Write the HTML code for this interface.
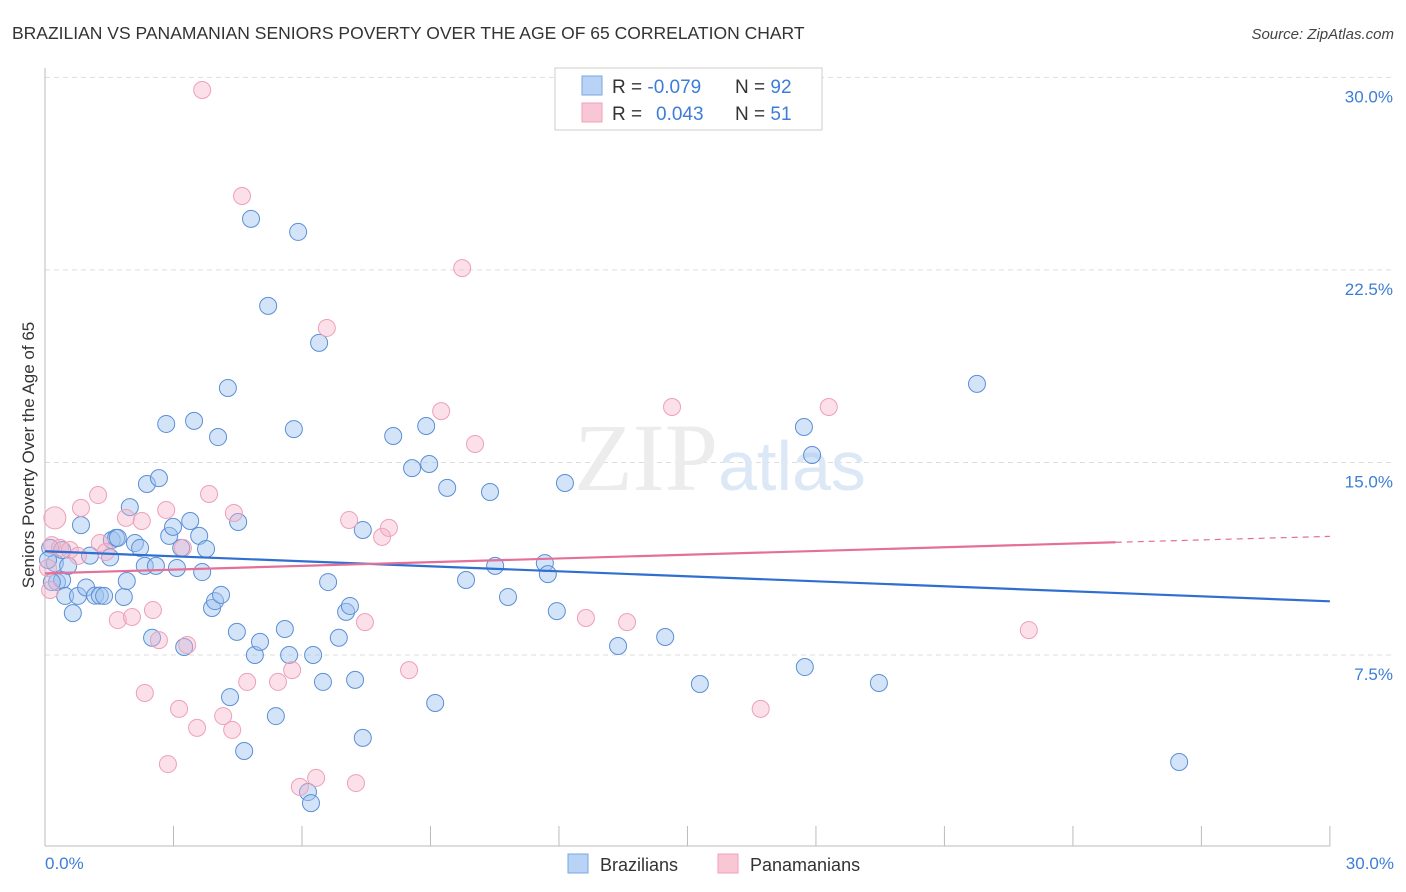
<!DOCTYPE html>
<html><head><meta charset="utf-8"><style>
body{margin:0;background:#fff;font-family:"Liberation Sans",sans-serif}
svg{display:block}
</style></head><body>
<svg id="chart" width="1406" height="892" xmlns="http://www.w3.org/2000/svg">
<text x="12" y="39" font-size="17.5" fill="#333">BRAZILIAN VS PANAMANIAN SENIORS POVERTY OVER THE AGE OF 65 CORRELATION CHART</text>
<text x="1394" y="39" font-size="15" fill="#444" font-style="italic" text-anchor="end">Source: ZipAtlas.com</text>
<g id="grid"></g>
<text x="720" y="490" font-size="96" fill="#ececec" text-anchor="middle" font-family="Liberation Serif,serif">ZIP<tspan fill="#dce8f6" font-family="Liberation Sans,sans-serif" font-size="70">atlas</tspan></text>
<line x1="45" y1="68" x2="45" y2="846" stroke="#bbb"/>
<line x1="45" y1="846" x2="1330" y2="846" stroke="#bbb"/>
<text transform="translate(34,455) rotate(-90)" font-size="17" fill="#333" text-anchor="middle">Seniors Poverty Over the Age of 65</text>
<text x="45" y="869" font-size="17" fill="#3d7dd6">0.0%</text>
<text x="1394" y="869" font-size="17" fill="#3d7dd6" text-anchor="end">30.0%</text>
<g id="pts"></g>
<g id="trends"></g>
<g>
<rect x="555" y="68" width="267" height="62" fill="#fff" stroke="#ccc"/>
<rect x="582" y="76" width="20" height="19" fill="#b8d3f5" stroke="#7aa7e0"/>
<rect x="582" y="103" width="20" height="19" fill="#f9c6d6" stroke="#eea0b8"/>
<text x="612" y="93" font-size="19" fill="#333">R = <tspan fill="#3d7dd6">-0.079</tspan><tspan x="735">N = </tspan><tspan fill="#3d7dd6">92</tspan></text>
<text x="612" y="120" font-size="19" fill="#333">R = <tspan x="656" fill="#3d7dd6">0.043</tspan><tspan x="735">N = </tspan><tspan fill="#3d7dd6"> 51</tspan></text>
</g>
<g>
<rect x="568" y="854" width="20" height="19" fill="#b8d3f5" stroke="#7aa7e0"/>
<text x="600" y="871" font-size="18" fill="#333">Brazilians</text>
<rect x="718" y="854" width="20" height="19" fill="#f9c6d6" stroke="#eea0b8"/>
<text x="750" y="871" font-size="18" fill="#333">Panamanians</text>
</g>
</svg>
<script>
const yTicks=[7.5,15,22.5,30];
const yTickLabels=["7.5%","15.0%","22.5%","30.0%"];
const xTicks=[0,3,6,9,12,15,18,21,24,27,30];
const blueX=[0.12,0.23,0.28,0.40,0.54,0.47,0.65,0.77,0.84,0.96,1.05,1.17,1.28,1.38,1.52,1.56,1.66,1.70,1.84,1.91,1.98,2.10,2.22,2.38,2.33,2.50,2.59,2.66,2.83,2.90,2.99,3.08,3.18,3.25,3.39,3.48,3.60,3.67,3.76,3.90,3.97,4.11,4.04,4.27,4.32,4.48,4.51,4.65,4.81,4.90,5.02,5.21,5.39,5.60,5.70,5.81,5.91,6.14,6.21,6.26,6.40,6.49,6.61,6.86,7.03,7.12,7.24,7.42,7.42,8.13,8.57,8.90,8.97,9.11,9.39,9.83,10.39,10.51,10.81,11.67,11.74,11.95,12.14,13.38,14.48,15.29,17.72,17.74,17.91,19.47,21.76,26.48,0.16,0.40,0.07];
const blueY=[11.67,11.08,10.34,10.42,10.97,9.80,9.13,9.80,12.56,10.13,11.37,9.81,9.81,9.80,11.30,11.98,12.06,12.06,9.76,10.38,13.26,11.86,11.67,14.16,10.97,8.17,10.97,14.39,16.50,12.14,12.49,10.89,11.67,7.81,12.72,16.62,12.14,10.73,11.63,9.33,9.60,9.84,15.99,17.90,5.86,8.40,12.68,3.76,24.49,7.50,8.01,21.10,5.12,8.51,7.50,16.30,23.98,2.16,1.73,7.50,19.66,6.45,10.34,8.17,9.18,9.41,6.53,12.37,4.27,16.03,14.78,16.42,14.94,5.63,14.01,10.42,13.85,10.97,9.76,11.08,10.65,9.21,14.20,7.85,8.20,6.37,16.38,7.03,15.29,6.41,18.06,3.33,10.34,11.59,11.20];
const pinkX=[0.23,0.16,0.35,0.58,0.77,0.84,1.24,1.28,1.42,1.70,1.89,2.03,2.26,2.33,2.52,2.66,2.83,2.87,3.13,3.22,3.32,3.55,3.67,3.83,4.16,4.37,4.41,4.60,4.72,5.44,5.77,5.95,6.33,6.58,7.10,7.26,7.47,7.87,8.03,8.50,9.25,9.74,10.04,12.63,13.59,14.64,16.71,18.30,22.97,0.07,0.12];
const pinkY=[12.84,11.78,11.67,11.59,11.36,13.23,13.73,11.86,11.51,8.86,12.84,8.98,12.72,6.02,9.25,8.08,13.15,3.25,5.40,11.67,7.89,4.66,29.51,13.77,5.12,4.58,13.03,25.38,6.45,6.45,6.91,2.36,2.71,20.24,12.76,2.51,8.78,12.10,12.45,6.91,17.00,22.57,15.72,8.94,8.78,17.16,5.40,17.16,8.47,10.89,10.03];
const blueTrend=[11.54,9.59];
const pinkTrend=[10.68,11.89,12.12];
const NS="http://www.w3.org/2000/svg";
function sx(v){return 45+v*42.83;}
function sy(v){return 847.5-v*25.67;}
function mk(t,a,p){const e=document.createElementNS(NS,t);for(const k in a)e.setAttribute(k,a[k]);p.appendChild(e);return e;}
const grid=document.getElementById('grid');
yTicks.forEach((t,i)=>{
 const l=mk('line',{x1:45,x2:1394,y1:sy(t),y2:sy(t),stroke:'#ddd','stroke-dasharray':'5,4'},grid);
 
 
 const tx=mk('text',{x:1393,y:sy(t)+25,'font-size':17,fill:'#3d7dd6','text-anchor':'end'},grid);
 tx.textContent=yTickLabels[i];
 
 
});
xTicks.forEach(t=>{
 const l=mk('line',{x1:sx(t),x2:sx(t),y1:826,y2:846,stroke:'#bbb'},grid);
 
 
});
const pts=document.getElementById('pts');
blueX.forEach((x,i)=>{
 const c=mk('circle',{cx:sx(x),cy:sy(blueY[i]),r:8.5,fill:'rgba(160,196,240,0.45)',stroke:'#5b8fd6','stroke-width':1},pts);
 
 
});
pinkX.forEach((x,i)=>{
 const c=mk('circle',{cx:sx(x),cy:sy(pinkY[i]),r:i===0?11:8.5,fill:'rgba(246,178,200,0.4)',stroke:'#eea0b8','stroke-width':1},pts);
 
 
});
const tr=document.getElementById('trends');
const bl=mk('line',{x1:sx(0),y1:sy(blueTrend[0]),x2:sx(30),y2:sy(blueTrend[1]),stroke:'#2f6fd0','stroke-width':2.2},tr);


const pl=mk('line',{x1:sx(0),y1:sy(pinkTrend[0]),x2:sx(25),y2:sy(pinkTrend[1]),stroke:'#e4709a','stroke-width':2.2},tr);


const pd=mk('line',{x1:sx(25),y1:sy(pinkTrend[1]),x2:sx(30),y2:sy(pinkTrend[2]),stroke:'#e4709a','stroke-width':1.2,'stroke-dasharray':'6,5'},tr);


</script>
</body></html>
